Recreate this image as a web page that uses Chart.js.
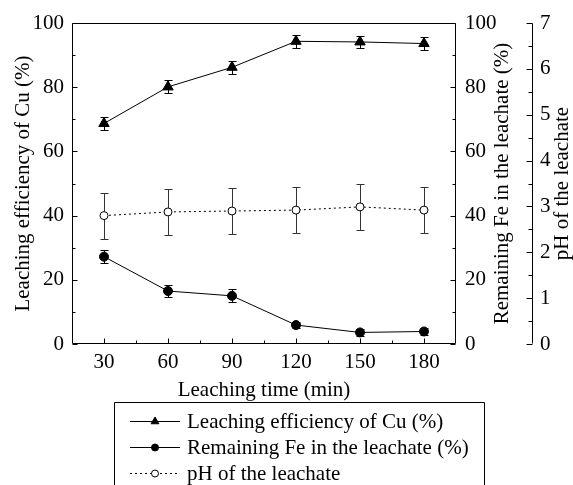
<!DOCTYPE html>
<html lang="en">
<head>
    <meta charset="UTF-8">
    <title>Leaching time</title>
    <script src="https://cdn.jsdelivr.net/npm/chart.js"></script>
    <style>
        html, body { margin: 0; padding: 0; background: #fff; }
    </style>
</head>
<body>
    <canvas id="chartCanvas" width="573" height="485"></canvas>

    <script>
        // data
        const times = [30, 60, 90, 120, 150, 180];
        const cuEff = [68.7, 80.1, 86.2, 94.3, 94.1, 93.6];
        const cuErr = [2, 2, 2, 2, 2, 2];
        const feRemain = [27.2, 16.5, 15.0, 5.9, 3.6, 3.9];
        const feErr = [2, 2, 2, 1, 1, 1];
        const phValue = [2.80, 2.88, 2.90, 2.92, 2.99, 2.92];
        const phErr = [0.5, 0.5, 0.5, 0.5, 0.5, 0.5];

        const timeTicks = [30, 60, 90, 120, 150, 180];
        const pctTicks = [0, 20, 40, 60, 80, 100];
        const phTicks = [0, 1, 2, 3, 4, 5, 6, 7];

        const FONT = "'Liberation Serif', 'Times New Roman', serif";
        const fontSize = 21;
        Chart.defaults.font.family = FONT;
        Chart.defaults.font.size = fontSize;
        Chart.defaults.color = '#000';

        const toPoints = (vals) => times.map((t, i) => ({ x: t, y: vals[i] }));
        const midpoints = (arr) => arr.slice(1).map((v, i) => (v + arr[i]) / 2);

        // error bars, drawn under the markers
        const errorBars = {
            id: 'errorBars',
            beforeDatasetsDraw(chart) {
                const ctx = chart.ctx;
                const xs = chart.scales.x;
                chart.data.datasets.forEach(ds => {
                    const ys = chart.scales[ds.yAxisID];
                    ctx.save();
                    ctx.strokeStyle = ds.errColor;
                    ctx.lineWidth = 1;
                    ds.data.forEach((p, j) => {
                        const x = Math.round(xs.getPixelForValue(p.x)) + 0.5;
                        const yTop = Math.round(ys.getPixelForValue(p.y + ds.errors[j])) + 0.5;
                        const yBot = Math.round(ys.getPixelForValue(p.y - ds.errors[j])) + 0.5;
                        ctx.beginPath();
                        ctx.moveTo(x, yTop); ctx.lineTo(x, yBot);
                        ctx.moveTo(x - 4, yTop); ctx.lineTo(x + 4, yTop);
                        ctx.moveTo(x - 4, yBot); ctx.lineTo(x + 4, yBot);
                        ctx.stroke();
                    });
                    ctx.restore();
                });
            }
        };

        // box frame, inward ticks, the offset pH axis and the right-hand titles
        const axisFrame = {
            id: 'axisFrame',
            afterDraw(chart) {
                const { ctx, chartArea: a, scales } = chart;
                const L = Math.round(a.left) + 0.5, R = Math.round(a.right) - 0.5;
                const T = Math.round(a.top) + 0.5, B = Math.round(a.bottom) - 0.5;
                const P = Math.round(scales.y2.left) + 0.5;
                ctx.save();
                ctx.strokeStyle = '#000';
                ctx.lineWidth = 1;
                ctx.beginPath();
                ctx.moveTo(L, T); ctx.lineTo(R, T); ctx.lineTo(R, B); ctx.lineTo(L, B); ctx.closePath();
                ctx.moveTo(P, T); ctx.lineTo(P, B);

                const hTick = (scale, vals, len) => vals.forEach(v => {
                    const x = Math.round(scale.getPixelForValue(v)) + 0.5;
                    ctx.moveTo(x, B); ctx.lineTo(x, B - len);
                });
                const vTick = (scale, vals, x0, len) => vals.forEach(v => {
                    const y = Math.round(scale.getPixelForValue(v)) + 0.5;
                    ctx.moveTo(x0, y); ctx.lineTo(x0 + len, y);
                });
                hTick(scales.x, timeTicks, 5);
                hTick(scales.x, midpoints(timeTicks), 3);
                vTick(scales.y, pctTicks, L, 5);
                vTick(scales.y, midpoints(pctTicks), L, 3);
                vTick(scales.y1, pctTicks, R, -5);
                vTick(scales.y1, midpoints(pctTicks), R, -3);
                vTick(scales.y2, phTicks, P, -6);
                vTick(scales.y2, midpoints(phTicks), P, -4);
                ctx.stroke();

                const midY = (a.top + a.bottom) / 2;
                ctx.fillStyle = '#000';
                ctx.font = fontSize + 'px ' + FONT;
                ctx.textAlign = 'center';
                ctx.textBaseline = 'middle';
                [[502, 'Remaining Fe in the leachate (%)'], [562, 'pH of the leachate']].forEach(([x, txt]) => {
                    ctx.save();
                    ctx.translate(x, midY);
                    ctx.rotate(-Math.PI / 2);
                    ctx.fillText(txt, 0, 0);
                    ctx.restore();
                });
                ctx.restore();
            }
        };

        // boxed legend under the axis title
        const boxLegend = {
            id: 'boxLegend',
            afterDraw(chart) {
                const ctx = chart.ctx;
                const bx = 114.5, by = 402.5, br = 484.5;
                ctx.save();
                ctx.strokeStyle = '#000';
                ctx.lineWidth = 1;
                ctx.beginPath();
                ctx.moveTo(bx, chart.height + 2); ctx.lineTo(bx, by);
                ctx.lineTo(br, by); ctx.lineTo(br, chart.height + 2);
                ctx.stroke();
                ctx.font = fontSize + 'px ' + FONT;
                ctx.textAlign = 'left';
                ctx.textBaseline = 'alphabetic';
                chart.data.datasets.forEach((ds, i) => {
                    const y = 421.5 + i * 26;
                    ctx.strokeStyle = '#000';
                    ctx.setLineDash(ds.borderDash || []);
                    ctx.beginPath();
                    ctx.moveTo(130, y); ctx.lineTo(180, y);
                    ctx.stroke();
                    ctx.setLineDash([]);
                    ctx.fillStyle = ds.pointBackgroundColor;
                    Chart.helpers.drawPoint(ctx, {
                        pointStyle: ds.pointStyle,
                        radius: ds.pointStyle === 'triangle' ? 4.5 : 3.5,
                        borderWidth: 1,
                        rotation: 0
                    }, 155, y);
                    ctx.fillStyle = '#000';
                    ctx.fillText(ds.label, 187, y + 6);
                });
                ctx.restore();
            }
        };

        const tickFont = { family: FONT, size: fontSize };

        const ctx = document.getElementById('chartCanvas').getContext('2d');
        const chart = new Chart(ctx, {
            type: 'line',
            data: {
                datasets: [{
                    label: 'Leaching efficiency of Cu (%)',
                    data: toPoints(cuEff),
                    yAxisID: 'y',
                    borderColor: '#000',
                    borderWidth: 1,
                    pointStyle: 'triangle',
                    pointRadius: 6,
                    pointBackgroundColor: '#000',
                    pointBorderColor: '#000',
                    pointBorderWidth: 1,
                    errors: cuErr,
                    errColor: '#000'
                }, {
                    label: 'Remaining Fe in the leachate (%)',
                    data: toPoints(feRemain),
                    yAxisID: 'y1',
                    borderColor: '#000',
                    borderWidth: 1,
                    pointStyle: 'circle',
                    pointRadius: 4.5,
                    pointBackgroundColor: '#000',
                    pointBorderColor: '#000',
                    pointBorderWidth: 1,
                    errors: feErr,
                    errColor: '#000'
                }, {
                    label: 'pH of the leachate',
                    data: toPoints(phValue),
                    yAxisID: 'y2',
                    borderColor: '#000',
                    borderWidth: 1,
                    borderDash: [2, 3],
                    pointStyle: 'circle',
                    pointRadius: 4,
                    pointBackgroundColor: '#fff',
                    pointBorderColor: '#000',
                    pointBorderWidth: 1,
                    errors: phErr,
                    errColor: '#333'
                }]
            },
            options: {
                responsive: false,
                animation: false,
                devicePixelRatio: 1,
                layout: { padding: { top: 23, left: 0, right: 0, bottom: 82.4 } },
                elements: { line: { tension: 0 } },
                plugins: {
                    legend: { display: false },
                    tooltip: { enabled: false }
                },
                scales: {
                    x: {
                        type: 'linear',
                        min: 15,
                        max: 195,
                        afterBuildTicks: s => { s.ticks = timeTicks.map(v => ({ value: v })); },
                        afterFit: s => { s.height = 58.6; },
                        grid: { display: false, drawTicks: false },
                        border: { display: false },
                        ticks: { font: tickFont, color: '#000', padding: 6, maxRotation: 0 },
                        title: {
                            display: true,
                            text: 'Leaching time (min)',
                            font: tickFont,
                            color: '#000',
                            padding: { top: 0, bottom: 0 }
                        }
                    },
                    y: {
                        position: 'left',
                        min: 0,
                        max: 100,
                        afterBuildTicks: s => { s.ticks = pctTicks.map(v => ({ value: v })); },
                        afterFit: s => { s.width = 72; },
                        grid: { display: false, drawTicks: false },
                        border: { display: false },
                        ticks: { font: tickFont, color: '#000', padding: 8 },
                        title: {
                            display: true,
                            text: 'Leaching efficiency of Cu (%)',
                            font: tickFont,
                            color: '#000',
                            padding: { top: 11, bottom: 0 }
                        }
                    },
                    y1: {
                        position: 'right',
                        min: 0,
                        max: 100,
                        afterBuildTicks: s => { s.ticks = pctTicks.map(v => ({ value: v })); },
                        afterFit: s => { s.width = 76; },
                        grid: { display: false, drawTicks: false },
                        border: { display: false },
                        ticks: { font: tickFont, color: '#000', padding: 9 }
                    },
                    y2: {
                        position: 'right',
                        min: 0,
                        max: 7,
                        afterBuildTicks: s => { s.ticks = phTicks.map(v => ({ value: v })); },
                        afterFit: s => { s.width = 41; },
                        grid: { display: false, drawTicks: false },
                        border: { display: false },
                        ticks: { font: tickFont, color: '#000', padding: 8 }
                    }
                }
            },
            plugins: [errorBars, axisFrame, boxLegend]
        });
    </script>
</body>
</html>
